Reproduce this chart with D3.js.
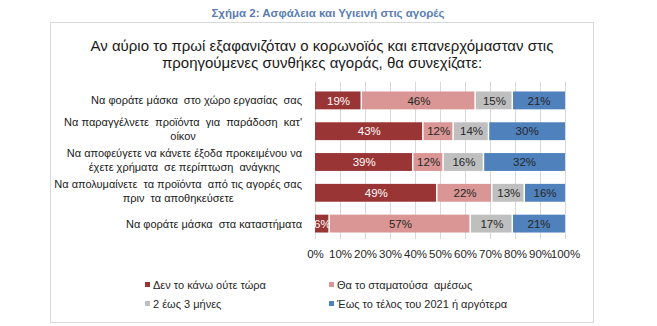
<!DOCTYPE html>
<html>
<head>
<meta charset="utf-8">
<script src="https://cdn.jsdelivr.net/npm/d3@7"></script>
<style>
  body { margin: 0; background: #fff; }
  svg { display: block; font-family: "Liberation Sans", Arial, sans-serif; }
  svg text { white-space: pre; }
</style>
</head>
<body>
<svg id="chart" width="657" height="326"></svg>
<script>
// Survey items (rows, top to bottom); long ones are split over two lines
const categories = [
  ["Να φοράτε μάσκα  στο χώρο εργασίας  σας"],
  ["Να παραγγέλνετε  προϊόντα  για  παράδοση  κατ'", "οίκον"],
  ["Να αποφεύγετε να κάνετε έξοδα προκειμένου να", "έχετε χρήματα  σε περίπτωση  ανάγκης"],
  ["Να απολυμαίνετε  τα προϊόντα  από τις αγορές σας", "πριν  τα αποθηκεύσετε"],
  ["Να φοράτε μάσκα  στα καταστήματα"]
];

// Answer options (stack order, left to right)
const seriesNames = [
  "Δεν το κάνω ούτε τώρα",
  "Θα το σταματούσα  αμέσως",
  "2 έως 3 μήνες",
  "Έως το τέλος του 2021 ή αργότερα"
];

// Percentages per answer option, one value per row
const notNow      = [19, 43, 39, 49, 6];
const stopAtOnce  = [46, 12, 12, 22, 57];
const twoToThree  = [15, 14, 16, 13, 17];
const endOf2021   = [21, 30, 32, 16, 21];

const tickLabels = ["0%", "10%", "20%", "30%", "40%", "50%", "60%", "70%", "80%", "90%", "100%"];

const colors = ["#9a3535", "#d99694", "#bfbfbf", "#4f81bd"];
const labelColors = ["#ffffff", "#262626", "#262626", "#262626"];

const rows = categories.map((c, i) => ({
  idx: i,
  s0: notNow[i], s1: stopAtOnce[i], s2: twoToThree[i], s3: endOf2021[i]
}));

const svg = d3.select("#chart");

// Figure caption above the chart frame
svg.append("text")
  .attr("x", 328).attr("y", 17)
  .attr("text-anchor", "middle")
  .attr("font-size", 11.5).attr("font-weight", "bold")
  .attr("fill", "#5a7db5")
  .text("Σχήμα 2: Ασφάλεια και Υγιεινή στις αγορές");

// Chart frame
svg.append("rect")
  .attr("x", 50.5).attr("y", 22.5)
  .attr("width", 543).attr("height", 300)
  .attr("fill", "#fff").attr("stroke", "#d9d9d9");

// Chart title
const title = svg.append("text")
  .attr("text-anchor", "middle")
  .attr("font-size", 15).attr("fill", "#1a1a1a");
title.append("tspan").attr("x", 322).attr("y", 51)
  .text("Αν αύριο το πρωί εξαφανιζόταν ο κορωνοϊός και επανερχόμασταν στις");
title.append("tspan").attr("x", 322).attr("y", 68)
  .text("προηγούμενες συνθήκες αγοράς, θα συνεχίζατε:");

const plot = { left: 315, right: 565, top: 85, bottom: 239 };

const x = d3.scaleLinear().domain([0, 1]).range([plot.left, plot.right]);
const y = d3.scaleBand().domain(d3.range(categories.length))
  .range([plot.top, plot.bottom]).paddingInner(0.42).paddingOuter(0.21);

// Vertical gridlines every 10%
const ticks = d3.range(0, 1.0001, 0.1);
svg.append("g").selectAll("line").data(ticks).join("line")
  .attr("x1", d => Math.round(x(d)) + 0.5).attr("x2", d => Math.round(x(d)) + 0.5)
  .attr("y1", plot.top - 3).attr("y2", plot.bottom)
  .attr("stroke", "#d9d9d9");

// Percent axis
const xAxis = d3.axisBottom(x).tickValues(ticks)
  .tickFormat((d, i) => tickLabels[i]).tickSize(0).tickPadding(0);
const axisG = svg.append("g").attr("transform", `translate(0,${plot.bottom + 11})`).call(xAxis);
axisG.select(".domain").remove();
axisG.selectAll("text").attr("font-size", 11.5).attr("fill", "#262626")
  .attr("font-family", "Liberation Sans, Arial, sans-serif").attr("dy", "0.71em");

// 100% stacked bars
const keys = ["s0", "s1", "s2", "s3"];
const stacked = d3.stack().keys(keys).offset(d3.stackOffsetExpand)(rows);

stacked.forEach((layer, k) => {
  const g = svg.append("g");
  g.selectAll("rect").data(layer).join("rect")
    .attr("x", d => x(d[0]))
    .attr("y", d => y(d.data.idx))
    .attr("width", d => Math.max(0, x(d[1]) - x(d[0]) - (k < 3 ? 1.5 : 0)))
    .attr("height", y.bandwidth())
    .attr("fill", colors[k]);
  g.selectAll("text").data(layer).join("text")
    .attr("x", d => (x(d[0]) + x(d[1])) / 2)
    .attr("y", d => y(d.data.idx) + y.bandwidth() / 2)
    .attr("dy", "0.36em")
    .attr("text-anchor", "middle")
    .attr("font-size", 11.5)
    .attr("fill", labelColors[k])
    .text(d => d.data[keys[k]] + "%");
});

// Row labels, right aligned against the plot
const catG = svg.append("g");
categories.forEach((lines, i) => {
  const cy = y(i) + y.bandwidth() / 2;
  const lh = 14;
  const t = catG.append("text").attr("font-size", 11).attr("fill", "#1a1a1a");
  if (lines.length === 1) {
    t.append("tspan").attr("x", 302).attr("y", cy).attr("dy", "0.36em")
      .attr("text-anchor", "end").text(lines[0]);
  } else {
    t.append("tspan").attr("x", 302).attr("y", cy - lh / 2 - 2).attr("dy", "0.36em")
      .attr("text-anchor", "end").text(lines[0]);
    t.append("tspan").attr("y", cy + lh / 2 - 2).attr("dy", "0.36em")
      .attr("text-anchor", "middle").text(lines[1]);
  }
});
// centre the wrapped second lines under their first lines
catG.selectAll("text").each(function () {
  const spans = d3.select(this).selectAll("tspan").nodes();
  if (spans.length === 2) {
    const w = spans[0].getComputedTextLength();
    d3.select(spans[1]).attr("x", 302 - w / 2);
  }
});

// Legend, two columns
const legendPos = [[145, 285], [329, 285], [145, 304], [329, 304]];
const legend = svg.append("g").selectAll("g").data(seriesNames).join("g")
  .attr("transform", (d, i) => `translate(${legendPos[i][0]},${legendPos[i][1]})`);
legend.append("rect").attr("x", 0).attr("y", -3).attr("width", 5).attr("height", 5)
  .attr("fill", (d, i) => colors[i]);
legend.append("text").attr("x", 8).attr("y", 0).attr("dy", "0.36em")
  .attr("font-size", 11).attr("fill", "#262626").text(d => d);
</script>
</body>
</html>
